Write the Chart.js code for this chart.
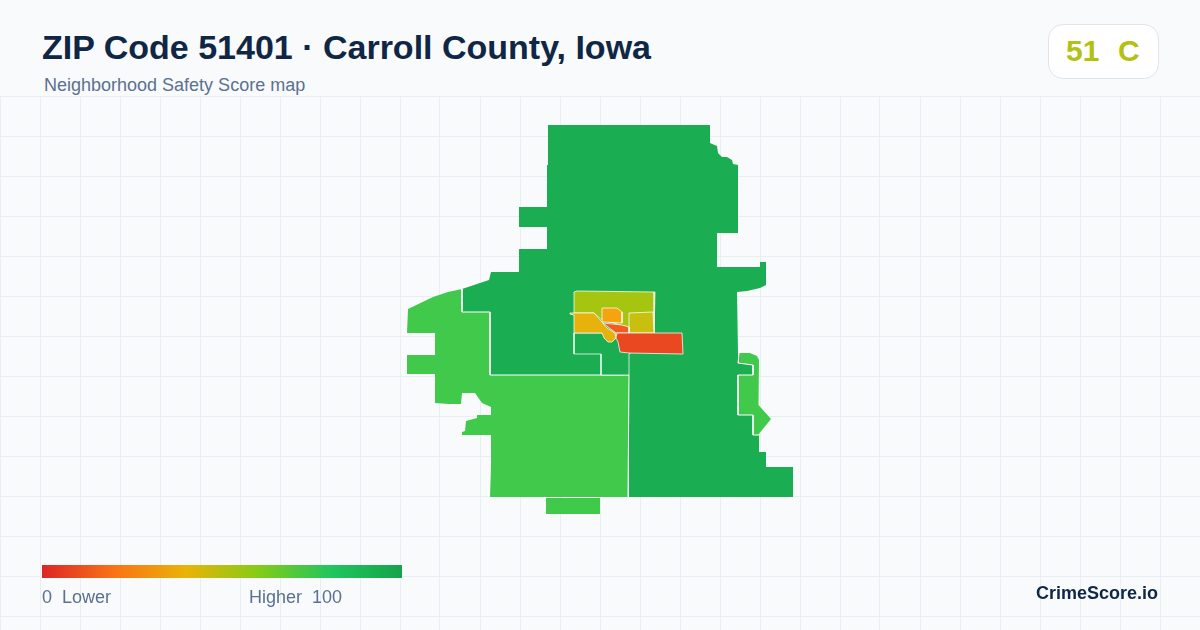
<!DOCTYPE html>
<html><head><meta charset="utf-8">
<script src="https://cdn.jsdelivr.net/npm/chart.js@4"></script>
<style>
html,body{margin:0;padding:0;background:#f8fafc;width:1200px;height:630px;overflow:hidden;font-family:"Liberation Sans",Arial,sans-serif}
#wrap{position:absolute;left:0;top:96px;width:1200px;height:534px}
.t{position:absolute;white-space:pre}
#title{left:42px;top:27px;font-size:34px;line-height:40px;font-weight:700;color:#0f2744}
#sub{left:44px;top:75px;font-size:18px;line-height:20px;color:#5b7190}
#badge{position:absolute;left:1048px;top:24px;width:109px;height:53px;border:1px solid #dfe5ec;border-radius:15px;background:#fff}
#score{left:1066px;top:33px;font-size:30px;word-spacing:1px;line-height:36px;font-weight:700;color:#b2c112}
#bar{position:absolute;left:42px;top:565px;width:360px;height:13px;background:linear-gradient(90deg,#dc2626 0%,#f97316 20%,#eab308 40%,#84cc16 60%,#22c55e 80%,#16a34a 100%)}
#lo{left:42px;top:587px;font-size:18px;line-height:20px;color:#5b7190}
#hi{left:249px;top:587px;font-size:18px;line-height:20px;color:#5b7190}
#brand{right:42px;top:583px;font-size:18px;line-height:20px;font-weight:700;color:#0f2744}
</style></head><body>
<div id="wrap"><canvas id="c" width="1200" height="534"></canvas></div>
<div class="t" id="title">ZIP Code 51401 · Carroll County, Iowa</div>
<div class="t" id="sub">Neighborhood Safety Score map</div>
<div id="badge"></div><div class="t" id="score">51  C</div>
<div id="bar"></div>
<div class="t" id="lo">0  Lower</div><div class="t" id="hi">Higher  100</div>
<div class="t" id="brand">CrimeScore.io</div>
<script>
const gridX=[0,40,80,120,160,200,240,280,320,360,400,440,480,520,560,600,640,680,720,760,800,840,880,920,960,1000,1040,1080,1120,1160,1200];
const gridY=[96,136,176,216,256,296,336,376,416,456,496,536,576,616];

const mainZone=[[548,125],[710,125],[710,143],[717,146],[718,153],[722,157],[727,157],[732,160],[733,164],[738,165],[738,233],[717,233],[717,267],[760,267],[760,262],[766,262],[766,285],[760,288],[747,291],[737,292],[738,353],[738,363],[753,365],[753,375],[738,375],[738,415],[753,415],[753,435],[759,435],[759,452],[766,452],[766,467],[793,467],[793,497],[775,497],[723,497],[668,497],[629,497],[629,375],[490,375],[490,312],[462,312],[462,289],[480,283],[489,280],[491,272],[519,272],[519,249],[547,249],[547,227],[519,227],[519,207],[547,207],[547,165],[548,165]];
const westZone=[[462,289],[448,292],[433,297],[408,309],[407,333],[435,333],[435,355],[407,355],[407,374],[435,374],[435,403],[449,404],[461,404],[462,393],[475,393],[482,403],[491,407],[491,415],[477,415],[477,418],[466,421],[465,431],[462,432],[462,435],[491,435],[491,467],[490,497],[628,497],[629,375],[490,375],[490,312],[462,312]];
const southBlock=[[546,498],[600,498],[600,514],[546,514]];
const eastZone=[[739,353],[750,353],[757,356],[759,360],[758,383],[759,405],[771,419],[758,435],[753,435],[753,415],[738,415],[738,375],[753,375],[753,365],[739,363]];
const westBoundary=[[462,289],[462,312],[490,312],[490,375],[629,375],[628,497]];
const eastBoundary=[[739,353],[738,363],[753,365],[753,375],[738,375],[738,415],[753,415],[753,435],[759,435]];
const innerBlock=[[574,333],[574,354],[601,354],[601,375],[629,375],[629,354],[650,340],[610,333]];
const northCity=[[574,292],[577,291],[655,292],[654,333],[629,333],[628,327],[602,320],[594,313],[574,313]];
const westCity=[[570,313],[594,313],[602,322],[607,328],[615,333],[616,338],[612,342],[608,342],[604,338],[602,333],[574,333],[574,315],[570,314]];
const centerCity=[[602,308],[617,308],[622,312],[622,323],[603,322]];
const eastCity=[[629,313],[653,312],[654,333],[629,333]];
const sliverCity=[[603,323],[622,325],[629,327],[629,333],[616,333],[608,327]];
const southCity=[[617,333],[682,333],[683,354],[629,353],[620,352],[618,342],[616,338]];

const zones=[mainZone,westZone,southBlock,eastZone];
const zoneColors=['#1bad52','#41c94c','#41c94c','#41c94c'];
const boundaries=[westBoundary,eastBoundary];
const cityParts=[innerBlock,northCity,westCity,centerCity,eastCity,sliverCity,southCity];
const cityColors=['#1bad52','#a6c510','#e7b20b','#f5a30f','#c9bf0e','#f25c1e','#ea4820'];

const pts=r=>r.map(p=>({x:p[0],y:p[1]}));
const base={showLine:true,tension:0,pointRadius:0,pointHoverRadius:0,borderWidth:1};
const datasets=[
  ...zones.map((r,i)=>({...base,data:pts(r.concat([r[0]])),fill:'shape',backgroundColor:zoneColors[i],borderColor:'transparent'})),
  ...boundaries.map(r=>({...base,data:pts(r),fill:false,borderColor:'#ffffff'})),
  ...cityParts.map((r,i)=>({...base,data:pts(r.concat([r[0]])),fill:'shape',backgroundColor:cityColors[i],borderColor:'#ffffff',borderWidth:0.75}))
].map((d,i)=>({...d,order:-i}));

new Chart(document.getElementById('c'),{
  type:'scatter',
  data:{datasets},
  options:{
    responsive:false,animation:false,events:[],
    layout:{padding:0},
    plugins:{legend:{display:false},tooltip:{enabled:false}},
    scales:{
      x:{type:'linear',min:0,max:1200,
        afterBuildTicks:s=>{s.ticks=gridX.map(v=>({value:v}))},
        ticks:{display:false},border:{display:false},
        grid:{color:'#e8eff3',lineWidth:1,drawTicks:false}},
      y:{type:'linear',min:96,max:630,reverse:true,
        afterBuildTicks:s=>{s.ticks=gridY.map(v=>({value:v}))},
        ticks:{display:false},border:{display:false},
        grid:{color:'#e8eff3',lineWidth:1,drawTicks:false}}
    }
  }
});
</script>
</body></html>
